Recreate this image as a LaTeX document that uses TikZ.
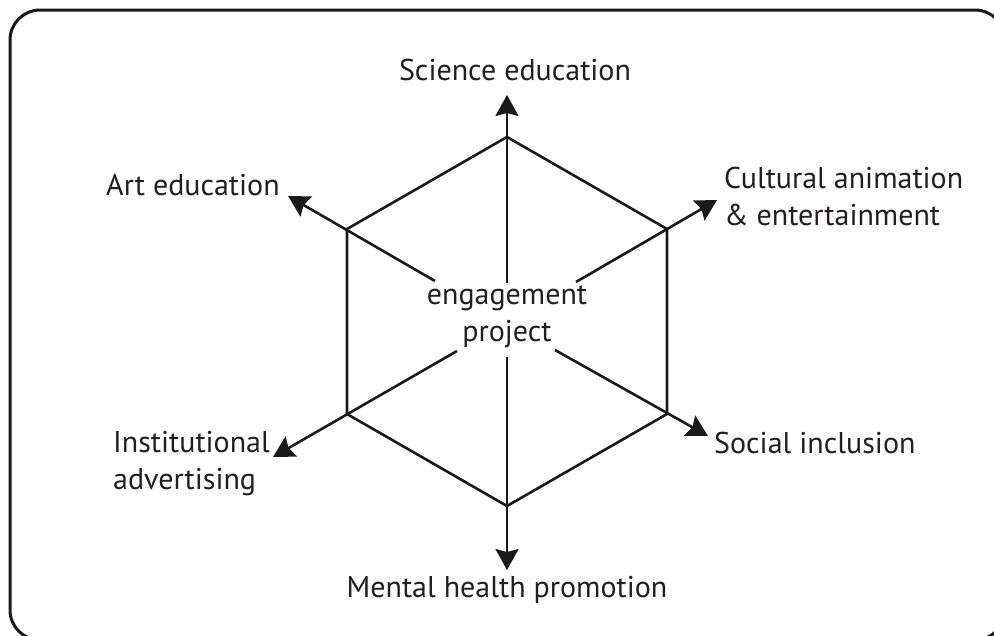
\documentclass[tikz,border=0pt]{standalone}
\usepackage{fontspec}
\setmainfont{PT Sans}
\usetikzlibrary{arrows.meta}
\definecolor{ink}{HTML}{1A1A1A}
\definecolor{txt}{HTML}{231F20}
\begin{document}
\begin{tikzpicture}[x=1pt,y=-1pt,
  spoke/.style={line width=2.6pt, draw=ink, -{Stealth[length=21pt,width=23pt,inset=3pt]}},
  hexedge/.style={line width=2.6pt, draw=ink, line join=miter},
  lbl/.style={inner sep=0pt, text=txt, font=\fontsize{30}{37}\selectfont},
  frame/.style={line width=3pt, draw=ink, rounded corners=30pt}]
\useasboundingbox (0,0) rectangle (994,635);
\clip (0,0) rectangle (994,635);
\fill[white] (0,0) rectangle (994,635);
\draw[frame] (10,10) rectangle (1005,640);
% hexagon vertices
\coordinate (c) at (507,322);
\coordinate (vT) at (507,137);
\coordinate (vUR) at (667,229);
\coordinate (vLR) at (667,414);
\coordinate (vB) at (507,506);
\coordinate (vLL) at (347,414);
\coordinate (vUL) at (347,229);
% spoke starts
\coordinate (sT) at (507,283);
\coordinate (sUR) at (576,282);
\coordinate (sLR) at (555,350);
\coordinate (sB) at (507,357);
\coordinate (sLL) at (457,351);
\coordinate (sUL) at (435,281);
% tips
\coordinate (tT) at (507,95);
\coordinate (tUR) at (717,200);
\coordinate (tLR) at (708,436);
\coordinate (tB) at (507,570);
\coordinate (tLL) at (273,457);
\coordinate (tUL) at (288,196);
\draw[hexedge] (vT) -- (vUR) -- (vLR) -- (vB) -- (vLL) -- (vUL) -- cycle;
\draw[spoke] (sT) -- (tT);
\draw[spoke] (sUR) -- (tUR);
\draw[spoke] (sLR) -- (tLR);
\draw[spoke] (sB) -- (tB);
\draw[spoke] (sLL) -- (tLL);
\draw[spoke] (sUL) -- (tUL);
% labels
\node[lbl, align=center] (core) at (507,317) {engagement\\project};
\node[lbl, anchor=base] (sci) at (515,80) {Science education};
\node[lbl, anchor=base west] (art) at (106,195) {Art education};
\node[lbl, anchor=north west, align=left] (cult) at (724,167) {Cultural animation\\\& entertainment};
\node[lbl, anchor=base west] (soc) at (714,453) {Social inclusion};
\node[lbl, anchor=north west, align=left] (inst) at (113,431) {Institutional\\advertising};
\node[lbl, anchor=base] (mental) at (507,597) {Mental health promotion};
\end{tikzpicture}
\end{document}
